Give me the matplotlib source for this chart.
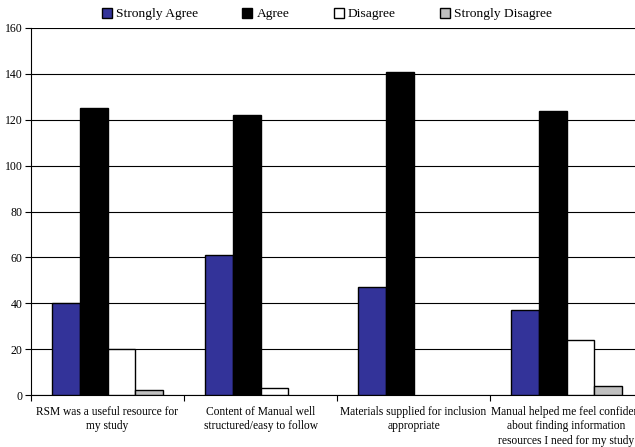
import numpy as np
import matplotlib.pyplot as plt

categories = [
    "RSM was a useful resource for\nmy study",
    "Content of Manual well\nstructured/easy to follow",
    "Materials supplied for inclusion\nappropriate",
    "Manual helped me feel confident\nabout finding information\nresources I need for my study",
]
series_names = ["Strongly Agree", "Agree", "Disagree", "Strongly Disagree"]
strongly_agree = [40, 61, 47, 37]
agree = [125, 122, 141, 124]
disagree = [20, 3, 0, 24]
strongly_disagree = [2, 0, 0, 4]
y_ticks = [0, 20, 40, 60, 80, 100, 120, 140, 160]

colors = ["#333399", "#000000", "#ffffff", "#c0c0c0"]

plt.rcParams['font.family'] = ['Liberation Serif', 'DejaVu Serif']

fig = plt.figure(figsize=(6.35, 4.47), dpi=100)
W, H = 635, 447
# plot area runs slightly past the right edge of the canvas
ax = fig.add_axes([31 / W, 52 / H, (643 - 31) / W, (395 - 28) / H])

x = np.arange(len(categories)) + 0.5
bw = 0.183
values = [strongly_agree, agree, disagree, strongly_disagree]
handles = []
for i, (name, vals, c) in enumerate(zip(series_names, values, colors)):
    pos = x + (i - 1.5) * bw
    shown = [v if v > 0 else np.nan for v in vals]
    b = ax.bar(pos, shown, width=bw, color=c, edgecolor='black', linewidth=1.0,
               label=name, zorder=3)
    handles.append(b)

ax.set_xlim(0, len(categories))
ax.set_ylim(0, 160)
ax.set_yticks(y_ticks)
ax.tick_params(axis='y', labelsize=8.5, length=4, width=0.8, pad=2)
ax.yaxis.grid(True, color='#000000', linewidth=0.8, zorder=0)

ax.set_xticks(x)
ax.set_xticklabels(categories, fontsize=8.3, linespacing=1.25)
ax.tick_params(axis='x', which='major', length=0, pad=8)
ax.set_xticks(np.arange(len(categories) + 1), minor=True)
ax.tick_params(axis='x', which='minor', length=4, width=0.8)

for s in ['top', 'right']:
    ax.spines[s].set_visible(False)
ax.spines['left'].set_linewidth(0.8)
ax.spines['bottom'].set_linewidth(0.8)

fig.legend(handles=handles, labels=series_names, loc='center',
           bbox_to_anchor=(327 / W, 1 - 14 / H), ncol=4, frameon=False,
           fontsize=9.7, handlelength=0.75, handleheight=0.75, handletextpad=0.3,
           columnspacing=3.3, borderpad=0)

fig.savefig("out.png", dpi=100)
